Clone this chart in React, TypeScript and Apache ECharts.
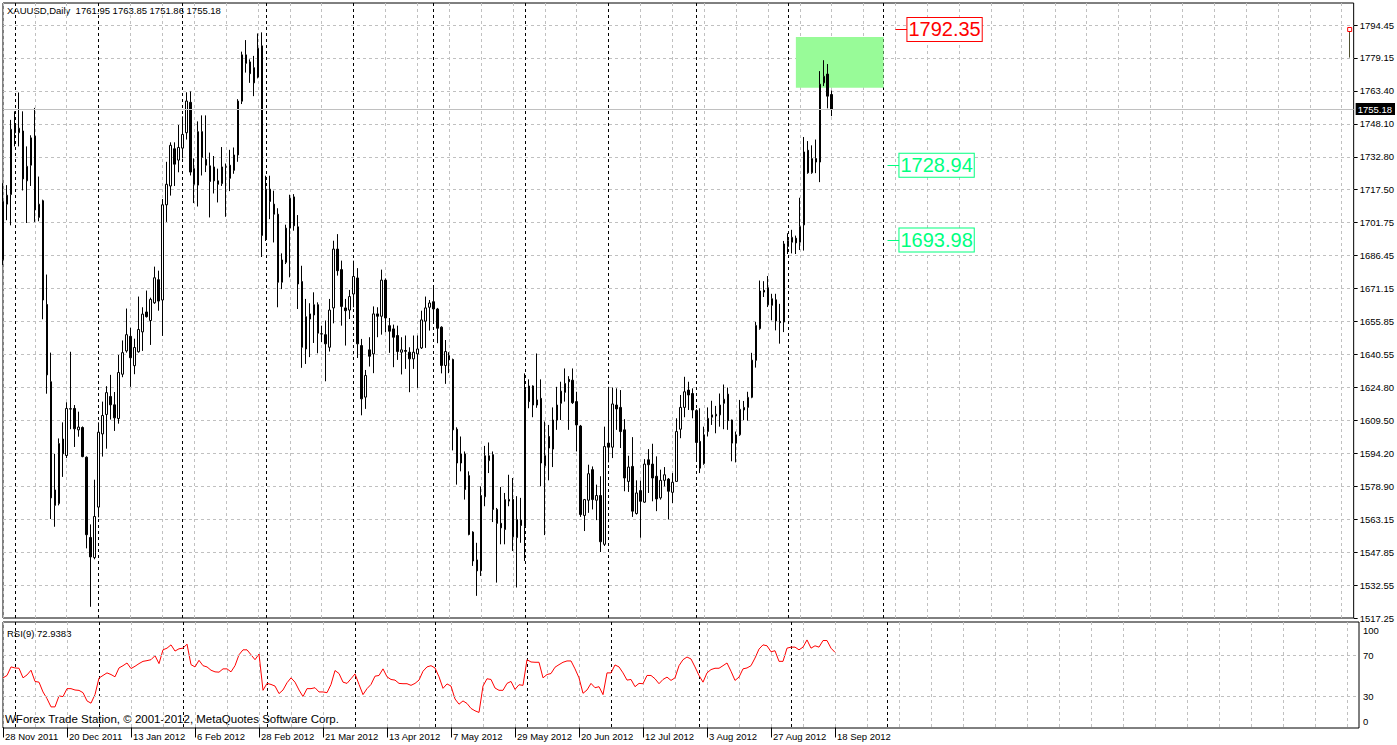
import React, { useEffect, useRef } from 'react';
import * as echarts from 'echarts';

// ---------- data ----------
const OPEN = [
  1684.7, 1710.7, 1715.2, 1747.7, 1744.1, 1744.9, 1721.6, 1728.9, 1742.5, 1704.5,
  1712.3, 1663.8, 1627.7, 1577.1, 1570.7, 1600.9, 1593.2, 1614.9, 1615.2, 1605.2,
  1606.3, 1592.4, 1554.9, 1545.5, 1569.1, 1603.3, 1612.4, 1620.8, 1616.9, 1610.5,
  1631.2, 1642.1, 1648.9, 1635.2, 1641.7, 1651.0, 1660.3, 1656.3, 1664.6, 1675.4,
  1665.9, 1710.4, 1719.2, 1736.6, 1731.3, 1736.9, 1744.1, 1758.3, 1727.3, 1719.6,
  1744.6, 1731.6, 1728.6, 1728.1, 1721.6, 1720.3, 1728.0, 1728.9, 1726.5, 1733.7,
  1758.8, 1776.5, 1777.2, 1774.5, 1770.1, 1784.7, 1694.4, 1717.7, 1710.7, 1706.0,
  1674.2, 1683.5, 1699.5, 1714.1, 1700.1, 1674.5, 1643.0, 1657.0, 1658.9, 1663.7,
  1650.1, 1649.7, 1643.8, 1662.2, 1689.7, 1680.1, 1662.2, 1661.2, 1668.7, 1676.2,
  1644.6, 1620.5, 1642.6, 1640.7, 1659.4, 1658.3, 1675.2, 1653.9, 1652.4, 1649.3,
  1641.5, 1642.3, 1641.5, 1638.4, 1640.7, 1643.5, 1656.0, 1662.5, 1665.1, 1661.7,
  1653.2, 1635.3, 1639.9, 1638.1, 1605.5, 1589.7, 1593.9, 1583.8, 1557.4, 1544.4,
  1539.3, 1573.9, 1590.8, 1593.6, 1568.0, 1561.5, 1558.6, 1571.9, 1572.7, 1554.8,
  1563.0, 1559.9, 1625.7, 1625.7, 1616.8, 1619.9, 1588.4, 1602.1, 1596.2, 1609.8,
  1617.6, 1622.7, 1628.8, 1628.4, 1618.4, 1607.0, 1565.2, 1572.3, 1586.6, 1572.3,
  1574.5, 1551.7, 1599.0, 1597.1, 1616.8, 1615.7, 1605.2, 1581.1, 1588.1, 1566.1,
  1576.8, 1571.4, 1591.2, 1589.2, 1583.5, 1573.4, 1581.6, 1582.2, 1576.0, 1581.1,
  1605.5, 1615.7, 1623.8, 1622.2, 1614.2, 1599.8, 1589.4, 1604.4, 1611.1, 1611.7,
  1612.2, 1617.6, 1621.9, 1609.8, 1599.0, 1602.9, 1614.5, 1615.7, 1620.4, 1637.7,
  1652.5, 1670.4, 1671.6, 1663.4, 1666.0, 1655.9, 1655.6, 1690.9, 1692.9, 1694.8,
  1692.9, 1701.0, 1735.9, 1725.4, 1732.0, 1730.4, 1767.4, 1771.5, 1761.95,
];
const HIGH = [
  1720.5, 1719.6, 1750.1, 1754.1, 1762.9, 1754.1, 1737.7, 1742.9, 1755.7, 1723.6,
  1712.8, 1677.8, 1641.3, 1594.0, 1601.2, 1608.7, 1618.1, 1641.7, 1616.8, 1613.7,
  1606.8, 1592.8, 1561.0, 1581.9, 1608.7, 1618.4, 1625.6, 1630.9, 1622.9, 1640.2,
  1647.0, 1661.9, 1652.9, 1647.8, 1667.5, 1662.5, 1670.3, 1667.0, 1681.5, 1679.6,
  1713.1, 1730.5, 1739.6, 1739.6, 1747.7, 1751.7, 1763.0, 1763.4, 1732.1, 1749.4,
  1752.2, 1752.2, 1734.8, 1733.2, 1727.3, 1737.4, 1729.7, 1736.1, 1737.2, 1759.8,
  1782.0, 1787.4, 1778.4, 1780.0, 1790.5, 1791.0, 1724.0, 1724.0, 1717.0, 1708.8,
  1687.7, 1701.1, 1715.1, 1715.4, 1705.6, 1681.9, 1666.4, 1664.4, 1669.5, 1664.8,
  1653.9, 1656.3, 1666.4, 1693.6, 1696.7, 1684.3, 1666.4, 1670.6, 1684.3, 1680.8,
  1647.7, 1633.2, 1648.5, 1662.9, 1662.5, 1680.1, 1676.0, 1657.5, 1654.4, 1653.9,
  1648.5, 1649.3, 1643.8, 1649.3, 1649.3, 1660.9, 1667.5, 1665.9, 1672.9, 1662.2,
  1653.6, 1647.2, 1641.5, 1638.5, 1606.4, 1602.1, 1595.1, 1585.8, 1557.8, 1552.4,
  1578.8, 1597.7, 1599.3, 1595.1, 1568.7, 1578.5, 1575.7, 1584.2, 1582.7, 1574.2,
  1573.4, 1631.6, 1628.8, 1626.0, 1640.9, 1628.8, 1609.1, 1607.5, 1615.7, 1625.3,
  1627.7, 1633.9, 1630.3, 1633.9, 1623.0, 1607.5, 1572.9, 1588.9, 1588.1, 1579.6,
  1583.5, 1606.7, 1625.3, 1625.0, 1624.6, 1623.8, 1610.2, 1593.1, 1601.8, 1581.6,
  1581.5, 1591.5, 1596.2, 1598.7, 1592.8, 1586.6, 1587.8, 1582.7, 1585.0, 1610.6,
  1621.5, 1630.0, 1627.7, 1624.6, 1614.8, 1615.3, 1606.7, 1615.7, 1618.8, 1616.4,
  1622.2, 1626.4, 1625.0, 1610.0, 1604.4, 1619.2, 1618.7, 1623.0, 1641.2, 1655.6,
  1675.0, 1674.7, 1677.1, 1668.8, 1668.8, 1664.1, 1693.5, 1697.1, 1698.7, 1696.0,
  1713.7, 1742.1, 1740.2, 1738.2, 1740.9, 1772.9, 1778.0, 1776.2, 1763.85,
];
const LOW = [
  1682.3, 1703.2, 1700.8, 1737.7, 1737.7, 1717.1, 1701.9, 1719.2, 1702.4, 1702.7,
  1656.9, 1622.1, 1563.5, 1559.9, 1569.9, 1583.2, 1592.0, 1605.5, 1597.2, 1602.0,
  1592.4, 1549.8, 1522.5, 1544.7, 1564.3, 1592.7, 1596.4, 1610.0, 1604.7, 1608.1,
  1629.8, 1641.3, 1625.3, 1631.2, 1641.3, 1642.1, 1657.7, 1644.9, 1664.1, 1660.9,
  1649.1, 1702.4, 1714.7, 1719.2, 1725.6, 1732.1, 1740.9, 1724.1, 1711.2, 1709.6,
  1724.1, 1725.7, 1704.5, 1715.7, 1711.5, 1719.2, 1704.8, 1716.8, 1724.9, 1730.5,
  1757.5, 1772.2, 1767.4, 1761.2, 1769.5, 1686.0, 1693.5, 1703.7, 1692.8, 1662.5,
  1671.0, 1682.7, 1676.5, 1698.3, 1661.7, 1634.2, 1636.0, 1639.2, 1645.8, 1641.0,
  1646.2, 1627.9, 1641.8, 1655.0, 1677.3, 1653.9, 1644.6, 1657.0, 1662.5, 1638.8,
  1612.0, 1615.0, 1634.8, 1631.7, 1648.5, 1649.7, 1650.8, 1641.2, 1634.5, 1637.9,
  1631.1, 1633.7, 1622.8, 1633.7, 1624.8, 1643.0, 1643.5, 1651.6, 1654.7, 1645.7,
  1631.6, 1626.7, 1631.7, 1595.6, 1579.6, 1585.8, 1572.6, 1555.9, 1541.6, 1527.6,
  1536.9, 1569.5, 1585.0, 1562.1, 1533.8, 1551.7, 1551.7, 1569.5, 1548.6, 1531.5,
  1552.4, 1543.9, 1615.3, 1611.1, 1615.5, 1578.8, 1556.0, 1581.6, 1587.8, 1605.2,
  1609.8, 1618.4, 1605.2, 1617.3, 1595.1, 1564.5, 1557.9, 1566.4, 1568.0, 1563.0,
  1548.1, 1550.9, 1590.0, 1592.0, 1605.2, 1596.7, 1576.5, 1576.2, 1564.5, 1565.6,
  1554.8, 1571.1, 1575.7, 1571.8, 1567.2, 1572.6, 1578.8, 1563.3, 1571.0, 1581.0,
  1601.3, 1611.1, 1614.5, 1610.6, 1591.2, 1585.0, 1588.9, 1602.1, 1607.5, 1603.6,
  1606.7, 1605.5, 1605.2, 1590.5, 1590.0, 1602.4, 1609.8, 1609.5, 1620.0, 1634.3,
  1652.0, 1667.3, 1662.6, 1656.4, 1651.7, 1645.5, 1650.9, 1687.4, 1687.7, 1687.4,
  1689.3, 1689.0, 1724.9, 1724.9, 1725.2, 1721.0, 1765.9, 1755.5, 1751.86,
];
const CLOSE = [
  1712.0, 1714.9, 1745.7, 1744.1, 1746.2, 1722.5, 1728.4, 1741.7, 1708.0, 1710.7,
  1665.9, 1630.9, 1573.4, 1569.9, 1598.8, 1594.0, 1615.2, 1615.1, 1605.7, 1606.5,
  1592.7, 1556.2, 1545.8, 1564.7, 1604.1, 1611.9, 1622.6, 1616.9, 1610.8, 1632.0,
  1641.3, 1649.7, 1638.9, 1643.7, 1652.1, 1659.3, 1658.1, 1666.2, 1676.3, 1665.4,
  1710.4, 1720.0, 1738.2, 1729.4, 1737.2, 1743.3, 1758.9, 1725.7, 1720.0, 1744.6,
  1732.6, 1728.9, 1721.3, 1721.6, 1720.0, 1728.1, 1728.2, 1722.8, 1733.7, 1758.9,
  1780.5, 1780.5, 1771.7, 1767.4, 1783.6, 1696.1, 1717.7, 1712.0, 1706.0, 1674.2,
  1684.6, 1699.5, 1713.5, 1700.6, 1673.4, 1643.8, 1658.1, 1659.4, 1663.7, 1650.4,
  1650.0, 1645.4, 1661.2, 1689.7, 1679.6, 1662.9, 1660.9, 1667.5, 1676.9, 1645.4,
  1619.7, 1630.6, 1639.6, 1659.4, 1658.3, 1675.2, 1657.5, 1651.3, 1648.5, 1641.8,
  1642.6, 1641.9, 1638.4, 1641.5, 1643.0, 1656.6, 1662.2, 1664.5, 1661.7, 1652.7,
  1635.3, 1641.8, 1637.9, 1605.2, 1589.7, 1593.9, 1577.3, 1556.3, 1543.9, 1539.3,
  1574.5, 1593.1, 1593.1, 1568.0, 1561.5, 1559.4, 1572.6, 1572.7, 1555.2, 1563.3,
  1560.5, 1624.1, 1618.4, 1616.8, 1619.2, 1589.7, 1593.1, 1596.7, 1609.8, 1616.8,
  1623.3, 1626.9, 1627.7, 1617.9, 1607.5, 1565.6, 1572.6, 1584.7, 1572.6, 1574.5,
  1552.9, 1597.4, 1597.1, 1617.3, 1615.0, 1604.4, 1582.7, 1587.8, 1567.2, 1575.7,
  1571.8, 1589.2, 1588.9, 1582.7, 1572.9, 1581.6, 1584.2, 1576.5, 1580.7, 1604.4,
  1615.7, 1623.0, 1621.5, 1614.5, 1599.3, 1587.3, 1602.9, 1610.6, 1612.2, 1612.5,
  1616.8, 1619.5, 1609.5, 1599.0, 1602.9, 1614.8, 1615.7, 1620.4, 1637.8, 1654.0,
  1670.1, 1669.6, 1663.7, 1666.5, 1656.1, 1655.3, 1692.1, 1693.7, 1695.2, 1692.6,
  1700.2, 1735.1, 1725.4, 1732.0, 1730.4, 1766.8, 1770.5, 1761.2, 1755.18,
];
const RSI9 = [
  48.2, 50.5, 58.8, 57.8, 57.5, 48.2, 51.0, 55.6, 44.7, 44.0,
  34.5, 28.0, 20.0, 20.0, 30.6, 30.0, 37.7, 37.7, 36.4, 36.0,
  33.8, 25.8, 23.6, 32.0, 48.0, 50.5, 53.0, 51.4, 49.2, 57.8,
  60.0, 62.6, 57.2, 59.4, 62.0, 64.2, 64.9, 65.8, 69.7, 62.0,
  75.4, 77.0, 80.2, 74.2, 76.4, 77.0, 80.9, 61.0, 58.8, 65.2,
  60.0, 58.8, 55.6, 54.0, 53.7, 56.9, 56.9, 54.0, 60.0, 70.6,
  75.4, 75.4, 70.6, 65.8, 71.3, 36.1, 42.8, 41.8, 40.2, 32.9,
  36.4, 43.4, 48.2, 44.0, 36.4, 30.0, 37.7, 37.7, 38.6, 34.5,
  34.5, 33.8, 41.8, 55.3, 52.4, 44.0, 42.8, 47.3, 52.0, 41.8,
  31.9, 37.7, 41.8, 49.8, 50.5, 56.9, 49.2, 46.6, 46.0, 42.8,
  42.5, 42.5, 40.9, 42.8, 46.0, 54.6, 58.8, 60.0, 57.8, 49.2,
  38.0, 42.3, 40.2, 27.7, 22.6, 25.8, 23.3, 18.5, 16.2, 14.6,
  40.2, 47.3, 46.6, 38.3, 36.1, 36.1, 42.8, 44.7, 37.0, 41.5,
  40.9, 65.8, 63.6, 63.3, 63.3, 48.2, 51.4, 52.4, 58.5, 61.0,
  63.3, 64.6, 64.6, 56.9, 48.2, 33.2, 36.4, 42.8, 38.6, 39.6,
  31.9, 53.0, 53.0, 60.7, 58.8, 53.0, 46.0, 46.6, 39.6, 42.8,
  42.5, 50.5, 50.5, 47.3, 42.5, 46.6, 48.9, 45.7, 48.2, 60.0,
  65.8, 68.4, 66.5, 58.8, 50.5, 44.0, 53.0, 56.2, 57.5, 57.5,
  60.0, 62.6, 54.6, 45.7, 48.9, 56.9, 57.8, 60.0, 67.4, 76.1,
  80.2, 79.3, 73.5, 74.5, 64.2, 64.2, 77.0, 78.0, 78.0, 75.4,
  78.0, 85.0, 77.0, 79.3, 78.0, 84.4, 84.4, 77.0, 72.9383,
];
const PRICE_LABELS = [
  '1517.25', '1532.55', '1547.85', '1563.15', '1578.90', '1594.20', '1609.50',
  '1624.80', '1640.55', '1655.85', '1671.15', '1686.45', '1701.75', '1717.50',
  '1732.80', '1748.10', '1763.40', '1779.15', '1794.45',
];
const RSI_LABELS = [0, 30, 70, 100];
const RSI_LEVELS = [30, 70];
const MONTH_STARTS = [3, 24, 45, 66, 88, 108, 131, 152, 174, 197, 221];
const HOLIDAYS = ['2011-12-26', '2012-01-02', '2012-04-06'];
const MONTHS = ['Jan', 'Feb', 'Mar', 'Apr', 'May', 'Jun', 'Jul', 'Aug', 'Sep', 'Oct', 'Nov', 'Dec'];
const SYMBOL = 'XAUUSD,Daily';
const RSI_NAME = 'RSI(9)';
const RSI_LAST = 72.9383;
const BID = 1755.18;
const RESISTANCE = 1792.35;
const SUPPORT_1 = 1728.94;
const SUPPORT_2 = 1693.98;
const ZONE_X = [199, 221];
const ZONE_Y = [1788.8, 1765.1];
const MARKER_Y = [1792.35, 1779.2];
const COPYRIGHT = 'WForex Trade Station, © 2001-2012, MetaQuotes Software Corp.';

// ---------- derived ----------
function buildDates(n: number): string[] {
  const out: string[] = [];
  const d = new Date(Date.UTC(2011, 10, 28));
  while (out.length < n) {
    const wd = d.getUTCDay();
    const iso = d.toISOString().slice(0, 10);
    if (wd !== 0 && wd !== 6 && !HOLIDAYS.includes(iso)) {
      out.push(`${d.getUTCDate()} ${MONTHS[d.getUTCMonth()]} ${d.getUTCFullYear()}`);
    }
    d.setUTCDate(d.getUTCDate() + 1);
  }
  return out;
}
const DATES = buildDates(OPEN.length);
const SLOTS = 340;
const CATS = [...DATES, ...Array.from({ length: SLOTS - DATES.length }, (_, i) => `+${i + 1}`)];
const CANDLES = OPEN.map((o, i) => [o, CLOSE[i], LOW[i], HIGH[i]]);

const FONT = "'Liberation Sans', Arial, sans-serif";
const GRID_TOP = 3;
const GRID_H = 615;
const LABEL_PX = 593 / 18; // px between price labels
const PRICE_STEP = (1794.45 - 1517.25) / 18;
const AUX_MAX = GRID_H / LABEL_PX;
const P_MIN = 1517.25;
const P_MAX = P_MIN + AUX_MAX * PRICE_STEP;

const GRAY = { color: '#C0C0C0', type: [3, 3] as any, width: 1 };
const BLACK_DASH = { color: '#000', type: [3, 3] as any, width: 1 };

function callout(from: number, to: number, price: number, color: string) {
  return [
    {
      coord: [from, price],
      lineStyle: { color, width: 1, type: 'solid' },
      label: {
        show: true, position: 'end', distance: 0, formatter: price.toFixed(2),
        color, fontSize: 20, fontFamily: FONT, lineHeight: 21, padding: [2, 1, 0, 1],
        borderColor: color, borderWidth: 1, backgroundColor: '#fff',
      },
    },
    { coord: [to, price] },
  ];
}

export default function App() {
  const ref = useRef<HTMLDivElement>(null);
  useEffect(() => {
    if (!ref.current) return;
    const chart = echarts.init(ref.current, undefined, { renderer: 'svg' });
    const last = OPEN.length - 1;
    const header = `${SYMBOL}  ${OPEN[last].toFixed(2)} ${HIGH[last].toFixed(2)} ${LOW[last].toFixed(2)} ${CLOSE[last].toFixed(2)}`;
    const catAxisBase = {
      type: 'category', data: CATS, boundaryGap: false,
      axisLine: { show: false }, axisTick: { show: false }, axisLabel: { show: false },
    };
    const rsiText = { fontSize: 9.5, color: '#000', fontFamily: FONT };
    chart.setOption({
      animation: false,
      backgroundColor: '#fff',
      grid: [
        { left: 3, top: GRID_TOP, width: 1356, height: GRID_H, show: true, borderColor: '#000', borderWidth: 1 },
        { left: 3, top: 622, width: 1356, height: 106, show: true, borderColor: '#000', borderWidth: 1 },
      ],
      xAxis: [
        { ...catAxisBase, gridIndex: 0, position: 'bottom',
          splitLine: { show: true, interval: (i: number) => i % 8 === 0, lineStyle: GRAY } },
        { ...catAxisBase, gridIndex: 0, position: 'top',
          splitLine: { show: true, interval: (i: number) => MONTH_STARTS.includes(i), lineStyle: BLACK_DASH } },
        { ...catAxisBase, gridIndex: 1, position: 'bottom',
          axisTick: { show: true, length: 10, interval: (i: number) => i % 16 === 0 && i < DATES.length, lineStyle: { color: '#000' } },
          axisLabel: { show: true, interval: (i: number) => i % 16 === 0 && i < DATES.length, align: 'left',
            margin: 3, fontSize: 9.5, color: '#000', fontFamily: FONT, padding: [0, 0, 0, 2] },
          splitLine: { show: true, interval: (i: number) => i % 8 === 0, lineStyle: GRAY } },
        { ...catAxisBase, gridIndex: 1, position: 'top',
          splitLine: { show: true, interval: (i: number) => MONTH_STARTS.includes(i), lineStyle: BLACK_DASH } },
      ],
      yAxis: [
        { gridIndex: 0, type: 'value', min: P_MIN, max: P_MAX, show: false, scale: true },
        { gridIndex: 0, type: 'value', min: 0, max: AUX_MAX, interval: 1, position: 'right',
          axisLine: { show: false },
          axisTick: { show: true, length: 4, lineStyle: { color: '#000' } },
          axisLabel: { formatter: (v: number) => PRICE_LABELS[v] ?? '', margin: 6, fontSize: 9.5,
            color: '#000', fontFamily: FONT, showMaxLabel: false },
          splitLine: { show: true, lineStyle: GRAY, showMinLine: false, showMaxLine: false } },
        { gridIndex: 1, type: 'value', min: -0.5, max: 102.4, position: 'right',
          axisLine: { show: false }, axisTick: { show: false }, splitLine: { show: false },
          axisLabel: {
            customValues: RSI_LABELS, margin: 4, ...rsiText,
            formatter: (v: number) => (v >= 100 ? `{dn|${v}}` : v <= 0 ? `{up|${v}}` : `${v}`),
            rich: {
              dn: { ...rsiText, padding: [12, 0, 0, 0] },
              up: { ...rsiText, padding: [0, 0, 12, 0] },
            },
          } },
      ],
      series: [
        {
          type: 'candlestick', xAxisIndex: 0, yAxisIndex: 0, data: CANDLES, barWidth: 2, clip: false,
          itemStyle: { color: '#fff', color0: '#000', borderColor: '#000', borderColor0: '#000', borderWidth: 1 },
          markArea: {
            silent: true, itemStyle: { color: '#98FB98', opacity: 1 },
            data: [[{ coord: [ZONE_X[0], ZONE_Y[0]] }, { coord: [ZONE_X[1], ZONE_Y[1]] }]],
          },
          markLine: {
            silent: true, symbol: ['none', 'none'], label: { show: false },
            data: [
              { yAxis: BID, lineStyle: { color: '#C0C0C0', type: 'solid', width: 1 },
                label: { show: true, position: 'end', distance: 2, formatter: BID.toFixed(2), color: '#fff',
                  backgroundColor: '#000', fontSize: 9.5, fontFamily: FONT, padding: [1, 3, 1, 2] } },
              callout(224, 227, RESISTANCE, '#FF0000'),
              callout(222, 225, SUPPORT_1, '#00FF7F'),
              callout(222, 225, SUPPORT_2, '#00FF7F'),
              [{ coord: [338, MARKER_Y[0]], lineStyle: { color: '#505030', type: 'solid', width: 1 } },
               { coord: [338, MARKER_Y[1]] }],
            ],
          },
          markPoint: {
            silent: true, symbol: 'rect', symbolSize: 4, label: { show: false },
            itemStyle: { color: '#fff', borderColor: '#FF0000', borderWidth: 1 },
            data: [{ coord: [338, MARKER_Y[0]] }],
          },
        },
        {
          type: 'line', xAxisIndex: 2, yAxisIndex: 2, data: RSI9, symbol: 'none', silent: true,
          lineStyle: { color: '#FF0000', width: 1 },
          markLine: {
            silent: true, symbol: ['none', 'none'], label: { show: false },
            lineStyle: { ...GRAY }, data: RSI_LEVELS.map((v) => ({ yAxis: v })),
          },
        },
      ],
      graphic: [
        { type: 'text', left: 7, top: 5, style: { text: header, fontSize: 9.5, fill: '#000', fontFamily: FONT } },
        { type: 'text', left: 7, top: 628, style: { text: `${RSI_NAME} ${RSI_LAST}`, fontSize: 9.5, fill: '#000', fontFamily: FONT } },
        { type: 'text', left: 5, top: 713, style: { text: COPYRIGHT, fontSize: 11.5, fill: '#000', fontFamily: FONT } },
      ],
    });
    return () => chart.dispose();
  }, []);
  return (
    <div
      ref={ref}
      style={{ position: 'fixed', left: 0, top: 0, width: 1397, height: 745, background: '#fff' }}
    />
  );
}
